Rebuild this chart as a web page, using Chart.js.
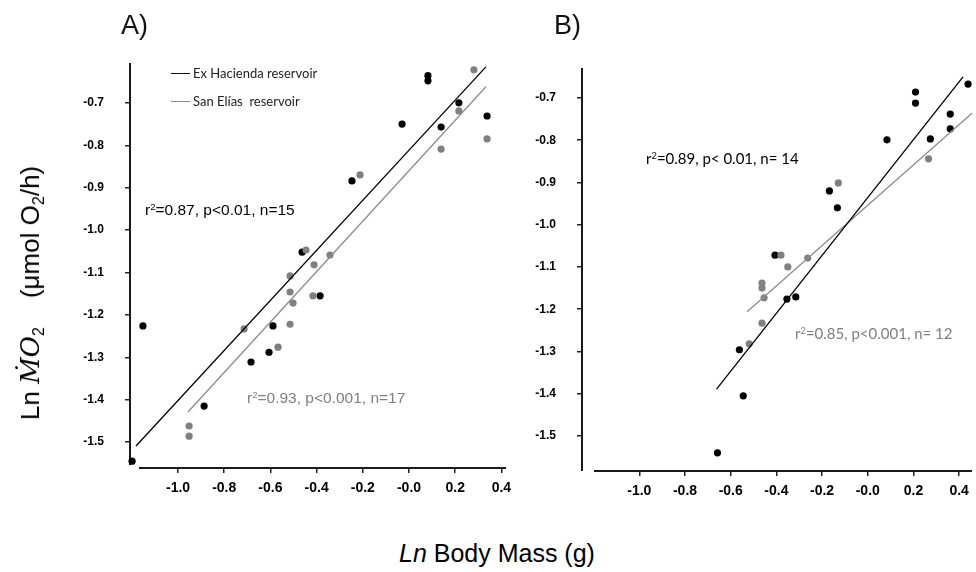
<!DOCTYPE html>
<html>
<head>
<meta charset="utf-8">
<script src="https://cdn.jsdelivr.net/npm/chart.js@4.4.1/dist/chart.umd.min.js"></script>
<style>
  html, body { margin: 0; padding: 0; background: #fff; }
  #wrap { position: relative; width: 976px; height: 572px; overflow: hidden; font-family: Arial, "Liberation Sans", sans-serif; }
  canvas { position: absolute; top: 0; }
  #chartA { left: 0; }
  #chartB { left: 530px; }
  .txt { position: absolute; white-space: nowrap; line-height: 1; }
  .panel { font-size: 27px; color: #111; }
  .note { font-size: 15.5px; transform: translateY(-50%); }
  .note sup { font-size: 0.62em; vertical-align: 0.5em; line-height: 0; }
  .calibri { font-family: Lato, sans-serif; font-size: 15px; }
  .grey { color: #7f7f7f; }
  .leg { font-family: Lato, sans-serif; font-size: 13px; color: #222; transform: translateY(-50%); }
  .seg { position: absolute; height: 1.3px; width: 19px; }
  #ytitle { left: 30px; top: 293px; font-size: 26px; transform: translate(-50%, -50%) rotate(-90deg); }
  #ytitle .m { font-family: "DejaVu Serif", "Liberation Serif", serif; font-style: italic; }
  #ytitle sub { font-size: 0.62em; vertical-align: -0.3em; line-height: 0; }
  #xtitle { left: 399px; top: 553px; font-size: 25px; transform: translateY(-50%); }
</style>
</head>
<body>
<div id="wrap">
  <canvas id="chartA" width="530" height="530"></canvas>
  <canvas id="chartB" width="446" height="530"></canvas>

  <div class="txt panel" style="left:121px; top:12px;">A)</div>
  <div class="txt panel" style="left:554px; top:12px;">B)</div>

  <div class="seg" style="left:171px; top:73px; background:#111;"></div>
  <div class="txt leg" style="left:193px; top:73px;">Ex Hacienda reservoir</div>
  <div class="seg" style="left:171px; top:101px; background:#8c8c8c;"></div>
  <div class="txt leg" style="left:193px; top:101px;">San Elías&nbsp; reservoir</div>

  <div class="txt note" style="left:145px; top:210px;">r<sup>2</sup>=0.87, p&lt;0.01, n=15</div>
  <div class="txt note grey" style="left:247px; top:398px;">r<sup>2</sup>=0.93, p&lt;0.001, n=17</div>
  <div class="txt note calibri" style="left:646px; top:158px;">r<sup>2</sup>=0.89, p&lt; 0.01, n= 14</div>
  <div class="txt note calibri grey" style="left:795px; top:333px;">r<sup>2</sup>=0.85, p&lt;0.001, n= 12</div>

  <div class="txt" id="ytitle">Ln <span class="m">ṀO</span><sub>2</sub>&nbsp;&nbsp;&nbsp; (μmol O<sub>2</sub>/h)</div>
  <div class="txt" id="xtitle"><i>Ln</i> Body Mass (g)</div>
</div>

<script>
// tick labels
const xTickValues = [-1.0, -0.8, -0.6, -0.4, -0.2, 0.0, 0.2, 0.4];
const xTickLabels = ['-1.0', '-0.8', '-0.6', '-0.4', '-0.2', '-0.0', '0.2', '0.4'];
const yTickValues = [-0.7, -0.8, -0.9, -1.0, -1.1, -1.2, -1.3, -1.4, -1.5];
const yTickLabels = ['-0.7', '-0.8', '-0.9', '-1.0', '-1.1', '-1.2', '-1.3', '-1.4', '-1.5'];

// panel A
const aHaciendaX = [0.082, 0.082, -0.030, -0.247, -0.463, -0.385, -1.152, -0.589, -0.606, -0.684, -0.887, -1.199, 0.216, 0.338, 0.139];
const aHaciendaY = [-0.636, -0.648, -0.750, -0.884, -1.052, -1.155, -1.226, -1.226, -1.288, -1.311, -1.415, -1.545, -0.700, -0.731, -0.757];
const aSanEliasX = [-0.212, -0.446, -0.342, -0.411, -0.515, -0.515, -0.416, -0.502, -0.714, -0.515, -0.567, -0.952, -0.952, 0.281, 0.216, 0.338, 0.139];
const aSanEliasY = [-0.870, -1.047, -1.059, -1.082, -1.108, -1.146, -1.155, -1.172, -1.233, -1.222, -1.276, -1.462, -1.486, -0.622, -0.719, -0.785, -0.809];
const aHaciendaFitX = [-1.182, 0.333];
const aHaciendaFitY = [-1.509, -0.615];
const aSanEliasFitX = [-0.957, 0.333];
const aSanEliasFitY = [-1.429, -0.662];

// panel B
const bHaciendaX = [0.439, 0.209, 0.209, 0.361, 0.361, 0.274, 0.084, -0.168, -0.133, -0.406, -0.354, -0.315, -0.562, -0.545, -0.658];
const bHaciendaY = [-0.667, -0.686, -0.712, -0.738, -0.773, -0.797, -0.799, -0.920, -0.960, -1.072, -1.176, -1.171, -1.296, -1.405, -1.540];
const bSanEliasX = [0.266, -0.129, -0.380, -0.350, -0.263, -0.463, -0.463, -0.454, -0.463, -0.519];
const bSanEliasY = [-0.844, -0.901, -1.072, -1.100, -1.079, -1.138, -1.150, -1.173, -1.233, -1.282];
const bHaciendaFitX = [-0.662, 0.417];
const bHaciendaFitY = [-1.389, -0.650];
const bSanEliasFitX = [-0.528, 0.456];
const bSanEliasFitY = [-1.206, -0.736];

const BLACK = '#000000';
const GREY = '#808080';
const GREY_LINE = '#8c8c8c';

const pts = (xs, ys) => xs.map((x, i) => ({ x: x, y: ys[i] }));

// detached axis lines, like the original figure
const axisLines = {
    id: 'axisLines',
    beforeDatasetsDraw(chart, args, opts) {
        const { ctx, chartArea: a } = chart;
        ctx.save();
        ctx.strokeStyle = '#1a1a1a';
        ctx.lineWidth = 2;
        ctx.beginPath();
        ctx.moveTo(a.left, a.top);
        ctx.lineTo(a.left, a.bottom - opts.yGap);
        ctx.moveTo(a.left + opts.xGap, a.bottom);
        ctx.lineTo(a.right, a.bottom);
        ctx.stroke();
        ctx.restore();
    }
};

function makePanel(id, d) {
    const ctx = document.getElementById(id).getContext('2d');
    return new Chart(ctx, {
        type: 'scatter',
        data: {
            datasets: [
                { data: pts(d.fitHX, d.fitHY), showLine: true, borderColor: BLACK, borderWidth: 1.3, pointRadius: 0, clip: false },
                { data: pts(d.fitSX, d.fitSY), showLine: true, borderColor: GREY_LINE, borderWidth: 1.3, pointRadius: 0, clip: false },
                { data: pts(d.sX, d.sY), backgroundColor: GREY, borderWidth: 0, pointRadius: 3.6, clip: false },
                { data: pts(d.hX, d.hY), backgroundColor: BLACK, borderWidth: 0, pointRadius: 3.6, clip: false }
            ]
        },
        options: {
            responsive: false,
            animation: false,
            devicePixelRatio: 1,
            layout: { padding: d.padding },
            plugins: {
                legend: { display: false },
                tooltip: { enabled: false },
                axisLines: d.axis
            },
            scales: {
                x: {
                    type: 'linear',
                    min: d.xMin, max: d.xMax,
                    afterBuildTicks: s => { s.ticks = xTickValues.map(v => ({ value: v })); },
                    afterFit: s => { s.height = 40; },
                    border: { display: false },
                    grid: { drawOnChartArea: false, drawTicks: true, tickLength: 5, color: '#222', lineWidth: 1.5 },
                    ticks: {
                        autoSkip: false, maxRotation: 0, padding: 7, color: '#000',
                        font: { family: '"Liberation Sans", Arial, sans-serif', size: 14, weight: 'bold' },
                        callback: (v, i) => xTickLabels[i]
                    }
                },
                y: {
                    type: 'linear',
                    min: d.yMin, max: d.yMax,
                    afterBuildTicks: s => { s.ticks = yTickValues.map(v => ({ value: v })); },
                    afterFit: s => { s.width = d.yWidth; },
                    border: { display: false },
                    grid: { drawOnChartArea: false, drawTicks: true, tickLength: 5, color: '#222', lineWidth: 1.5 },
                    ticks: {
                        padding: 21, color: '#000',
                        font: { family: '"Liberation Sans", Arial, sans-serif', size: 12, weight: 'bold' },
                        callback: (v, i) => yTickLabels[i]
                    }
                }
            }
        },
        plugins: [axisLines]
    });
}

document.addEventListener('DOMContentLoaded', () => {
    makePanel('chartA', {
        hX: aHaciendaX, hY: aHaciendaY, sX: aSanEliasX, sY: aSanEliasY,
        fitHX: aHaciendaFitX, fitHY: aHaciendaFitY, fitSX: aSanEliasFitX, fitSY: aSanEliasFitY,
        xMin: -1.208, xMax: 0.420, yMin: -1.561, yMax: -0.606,
        yWidth: 130,
        padding: { left: 0, top: 63, right: 24, bottom: 22 },
        axis: { yGap: 3, xGap: 9 }
    });
    makePanel('chartB', {
        hX: bHaciendaX, hY: bHaciendaY, sX: bSanEliasX, sY: bSanEliasY,
        fitHX: bHaciendaFitX, fitHY: bHaciendaFitY, fitSX: bSanEliasFitX, fitSY: bSanEliasFitY,
        xMin: -1.251, xMax: 0.456, yMin: -1.583, yMax: -0.629,
        yWidth: 52,
        padding: { left: 0, top: 68, right: 0, bottom: 19 },
        axis: { yGap: 0, xGap: 12 }
    });
});
</script>
</body>
</html>
